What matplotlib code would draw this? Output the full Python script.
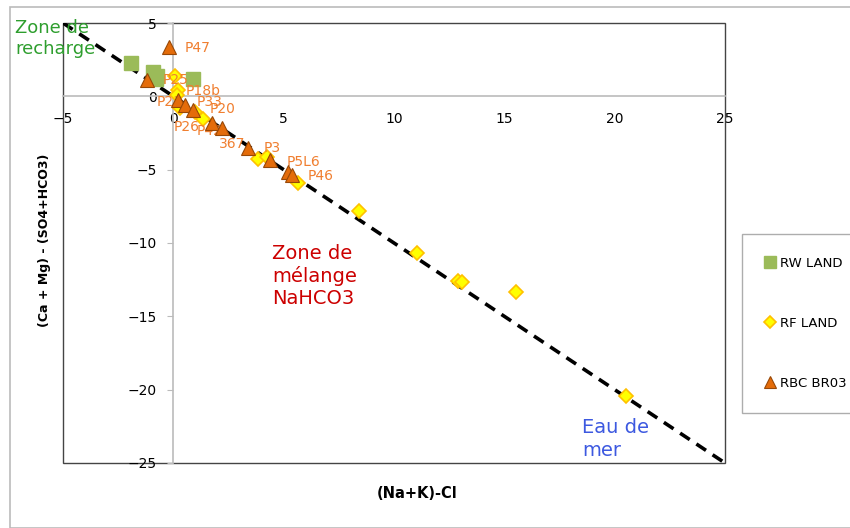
import matplotlib
matplotlib.use("Agg")
import matplotlib.pyplot as plt
from matplotlib.patches import Rectangle

# RW LAND samples
rw_x = [-1.9, -0.9, -0.75, -0.8, 0.9]
rw_y = [2.3, 1.65, 1.4, 1.2, 1.15]

# RF LAND samples
rf_x = [0.08, 0.23, 0.15, 0.3, 0.98, 1.36, 3.85, 4.23, 5.66, 8.41, 11.03, 12.89, 13.07, 15.51, 20.5]
rf_y = [1.38, 0.43, 0.09, -0.82, -1.05, -1.57, -4.3, -4.12, -5.89, -7.82, -10.66, -12.57, -12.64, -13.32, -20.4]

# RBC BR03 samples
rbc_x = [-0.19, -1.2, 0.23, 0.53, 0.91, 1.74, 2.22, 3.4, 4.38, 5.21, 5.36]
rbc_y = [3.36, 1.11, -0.25, -0.59, -0.93, -1.84, -2.18, -3.54, -4.34, -5.14, -5.36]

# Sample names
lab_text = ["P47", "P25", "P18b", "P21", "P33", "P20", "P26", "P42", "367", "P3", "P5L6", "P46"]
lab_x = [0.53, -0.47, 0.57, -0.74, 1.06, 1.66, 0.0, 1.06, 2.08, 4.11, 5.14, 6.07]
lab_y = [3.31, 1.11, 0.38, -0.37, -0.37, -0.89, -2.07, -2.37, -3.25, -3.55, -4.46, -5.43]

# Mixing line y = -x
line_x = [-5, 25]
line_y = [5, -25]

fig = plt.figure(figsize=(8.5, 5.28), dpi=100)
fig.patches.append(Rectangle((10 / 850, 0), 1, 1 - 7 / 528, transform=fig.transFigure,
                             fill=False, edgecolor="#BBBBBB", lw=1.2))
ax = fig.add_axes([63 / 850, 1 - 463 / 528, 662 / 850, 440 / 528])

ax.set_xlim(-5, 25)
ax.set_ylim(-25, 5)

ax.plot(line_x, line_y, color="black", lw=2.6, linestyle=(0, (3.2, 2.2)), zorder=2)

ax.plot(rw_x, rw_y, linestyle="none", marker="s", markersize=9.5, color="#9BBB59",
        markeredgecolor="#9BBB59", label="RW LAND", zorder=3)
ax.plot(rf_x, rf_y, linestyle="none", marker="D", markersize=7, color="#FFFF00",
        markeredgecolor="#FFC000", markeredgewidth=1.2, label="RF LAND", zorder=4)
ax.plot(rbc_x, rbc_y, linestyle="none", marker="^", markersize=10, color="#E46C0A",
        markeredgecolor="#984807", markeredgewidth=0.8, label="RBC BR03", zorder=5)

for t, x, y in zip(lab_text, lab_x, lab_y):
    ax.text(x, y, t, color="#F07F30", fontsize=10, ha="left", va="center", zorder=4.5)

# axes crossing at the origin
for s in ("top", "right"):
    ax.spines[s].set_visible(False)
ax.spines["left"].set_position(("data", 0))
ax.spines["bottom"].set_position(("data", 0))
ax.spines["left"].set_color("#BBBBBB")
ax.spines["bottom"].set_color("#BBBBBB")
ax.spines["left"].set_linewidth(1.2)
ax.spines["bottom"].set_linewidth(1.2)
ax.add_patch(Rectangle((0, 0), 1, 1, transform=ax.transAxes, fill=False,
                       edgecolor="#444444", lw=1.0, zorder=1, clip_on=False))

ax.set_xticks([-5, 0, 5, 10, 15, 20, 25])
ax.set_yticks([-25, -20, -15, -10, -5, 0, 5])
ax.tick_params(axis="x", labelsize=10, length=0, pad=11)
ax.tick_params(axis="y", labelsize=10, color="#BBBBBB", length=4, pad=8)

fig.text(417 / 850, 1 - 494 / 528, "(Na+K)-Cl", ha="center", va="center",
         fontsize=10.5, fontweight="bold")
fig.text(45 / 850, 1 - 240 / 528, "(Ca + Mg) - (SO4+HCO3)", rotation=90,
         ha="center", va="center", fontsize=9, fontweight="bold")

fig.text(15 / 850, 1 - 19 / 528, "Zone de\nrecharge", color="#2E9E2E", fontsize=13,
         ha="left", va="top", linespacing=1.2)
fig.text(272 / 850, 1 - 244 / 528, "Zone de\nmélange\nNaHCO3", color="#CC0000",
         fontsize=14, ha="left", va="top", linespacing=1.2)
fig.text(582 / 850, 1 - 418 / 528, "Eau de\nmer", color="#3D59E0", fontsize=14,
         ha="left", va="top", linespacing=1.3)

leg = fig.legend(loc="upper left", bbox_to_anchor=(742 / 850, 1 - 234 / 528),
                 borderaxespad=0, fontsize=9.5, frameon=True, fancybox=False,
                 edgecolor="#999999", labelspacing=3.55, handlelength=0.8,
                 handletextpad=0.3, borderpad=1.75, markerscale=0.85)
leg.get_frame().set_linewidth(1.0)

fig.savefig("out.png", dpi=100)
